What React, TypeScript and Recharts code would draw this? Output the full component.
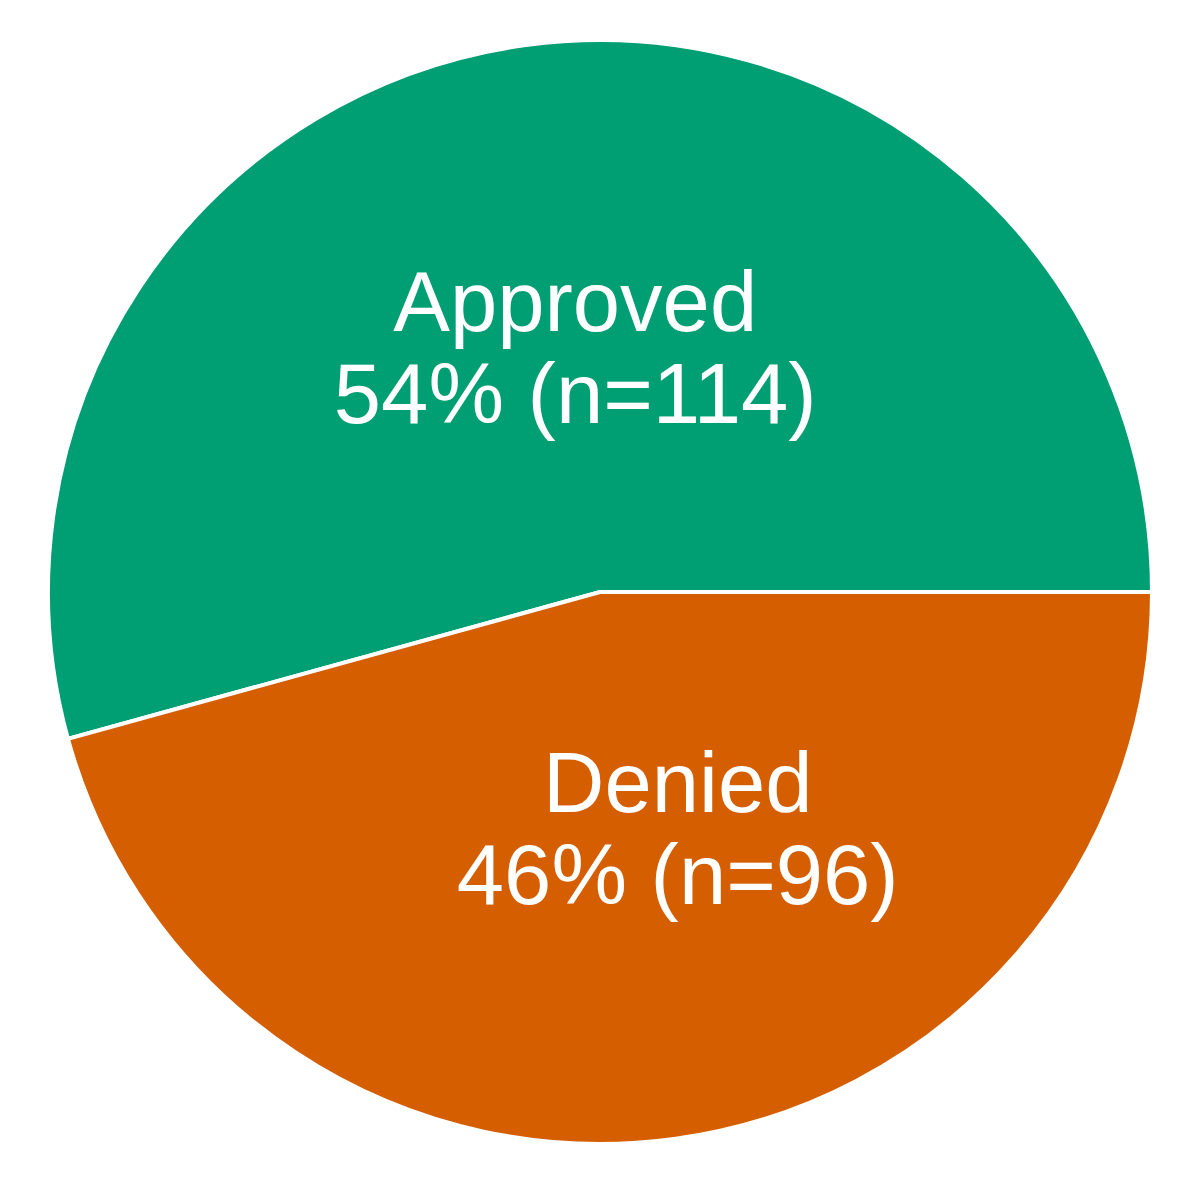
import React from "react";
import { PieChart, Pie, Cell } from "recharts";

const categories = ["Approved", "Denied"];
const counts = [114, 96];
const colors = ["#009E73", "#D55E00"];

const data = categories.map((name, i) => ({ name, value: counts[i] }));

const LABEL_DX: Record<string, number> = { Approved: 8, Denied: 45 };
const LABEL_DY: Record<string, number> = { Approved: -3, Denied: -6 };
const RADIAN = Math.PI / 180;

const renderLabel = (props: any) => {
  const { cx, cy, midAngle, outerRadius, percent, value, name } = props;
  const r = outerRadius * 0.442;
  const x = cx + r * Math.cos(-midAngle * RADIAN) + (LABEL_DX[name] || 0);
  const y = cy + r * Math.sin(-midAngle * RADIAN) + (LABEL_DY[name] || 0);
  return (
    <text
      x={x}
      y={y}
      fill="#ffffff"
      textAnchor="middle"
      fontFamily="'Liberation Sans', Arial, sans-serif"
      fontSize={85}
    >
      <tspan x={x} y={y - 16}>{name}</tspan>
      <tspan x={x} y={y + 76}>{`${Math.round(percent * 100)}% (n=${value})`}</tspan>
    </text>
  );
};

export default function App() {
  return (
    <div style={{ position: "absolute", left: 0, top: 0, width: 1200, height: 1185, background: "#ffffff" }}>
      <PieChart width={1200} height={1185} margin={{ top: 0, right: 0, bottom: 0, left: 0 }}>
        <Pie
          data={data}
          dataKey="value"
          nameKey="name"
          cx={600}
          cy={592}
          outerRadius={552}
          startAngle={0}
          endAngle={360}
          stroke="#ffffff"
          strokeWidth={4}
          label={renderLabel}
          labelLine={false}
          isAnimationActive={false}
        >
          {data.map((d, i) => (
            <Cell key={d.name} fill={colors[i]} />
          ))}
        </Pie>
      </PieChart>
    </div>
  );
}
